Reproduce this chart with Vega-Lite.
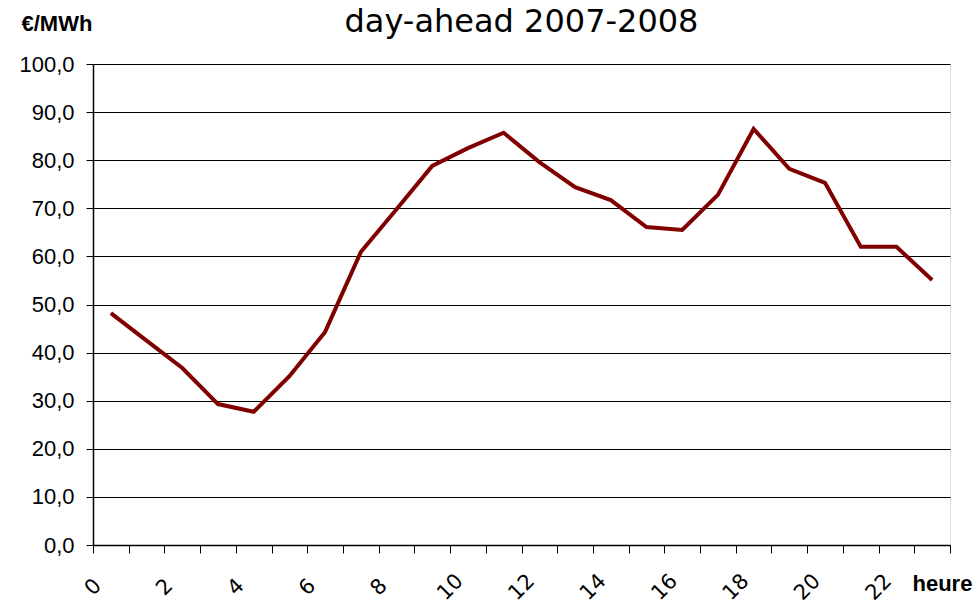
{
  "$schema": "https://vega.github.io/schema/vega-lite/v6.json",
  "width": 857,
  "height": 481,
  "autosize": "none",
  "padding": {"left": 93, "top": 64, "right": 30, "bottom": 61},
  "background": "white",
  "title": {
    "text": "day-ahead 2007-2008",
    "font": "DejaVu Sans",
    "fontSize": 32,
    "fontWeight": "normal",
    "color": "black",
    "anchor": "middle",
    "offset": -27
  },
  "data": {
    "values": [
      {"heure": 0.5, "prix": 48.2},
      {"heure": 1.5, "prix": 42.5},
      {"heure": 2.5, "prix": 36.8},
      {"heure": 3.5, "prix": 29.3},
      {"heure": 4.5, "prix": 27.7},
      {"heure": 5.5, "prix": 35.1},
      {"heure": 6.5, "prix": 44.3},
      {"heure": 7.5, "prix": 60.9},
      {"heure": 8.5, "prix": 69.8},
      {"heure": 9.5, "prix": 78.8},
      {"heure": 10.5, "prix": 82.5},
      {"heure": 11.5, "prix": 85.7},
      {"heure": 12.5, "prix": 79.6},
      {"heure": 13.5, "prix": 74.4},
      {"heure": 14.5, "prix": 71.7},
      {"heure": 15.5, "prix": 66.1},
      {"heure": 16.5, "prix": 65.5},
      {"heure": 17.5, "prix": 72.8},
      {"heure": 18.5, "prix": 86.5},
      {"heure": 19.5, "prix": 78.2},
      {"heure": 20.5, "prix": 75.3},
      {"heure": 21.5, "prix": 62.0},
      {"heure": 22.5, "prix": 62.0},
      {"heure": 23.5, "prix": 55.1}
    ]
  },
  "mark": {"type": "line", "color": "#800000", "strokeWidth": 4},
  "encoding": {
    "x": {
      "field": "heure",
      "type": "quantitative",
      "scale": {"domain": [0, 24], "nice": false, "zero": false},
      "axis": {
        "values": [0,1,2,3,4,5,6,7,8,9,10,11,12,13,14,15,16,17,18,19,20,21,22,23,24],
        "labelExpr": "datum.value % 2 == 0 && datum.value < 24 ? datum.label : ''",
        "grid": false,
        "domainColor": "black",
        "domainWidth": 1.5,
        "tickColor": "black",
        "tickSize": 8,
        "labelAngle": -45,
        "labelAlign": "center",
        "labelBaseline": "middle",
        "labelPadding": 34,
        "labelFont": "DejaVu Sans",
        "labelFontSize": 21,
        "labelColor": "black",
        "labelOverlap": false,
        "labelFlush": false,
        "title": "heure",
        "titleFont": "Liberation Sans",
        "titleFontSize": 22,
        "titleFontWeight": "bold",
        "titleColor": "black",
        "titleAnchor": "start",
        "titleAlign": "left",
        "titleBaseline": "middle",
        "titleX": 819,
        "titleY": 38
      }
    },
    "y": {
      "field": "prix",
      "type": "quantitative",
      "scale": {"domain": [0, 100], "nice": false},
      "axis": {
        "values": [0,10,20,30,40,50,60,70,80,90,100],
        "labelExpr": "replace(format(datum.value, '.1f'), '.', ',')",
        "grid": true,
        "gridColor": "black",
        "gridOpacity": 1,
        "gridWidth": 1,
        "domainColor": "black",
        "domainWidth": 1.5,
        "tickColor": "black",
        "tickSize": 7,
        "labelPadding": 12,
        "labelFont": "Liberation Sans",
        "labelFontSize": 22,
        "labelColor": "black",
        "labelFlush": false,
        "title": "€/MWh",
        "titleFont": "Liberation Sans",
        "titleFontSize": 22,
        "titleFontWeight": "bold",
        "titleColor": "black",
        "titleAngle": 0,
        "titleAlign": "left",
        "titleBaseline": "middle",
        "titleX": -72,
        "titleY": -41
      }
    }
  }
}
